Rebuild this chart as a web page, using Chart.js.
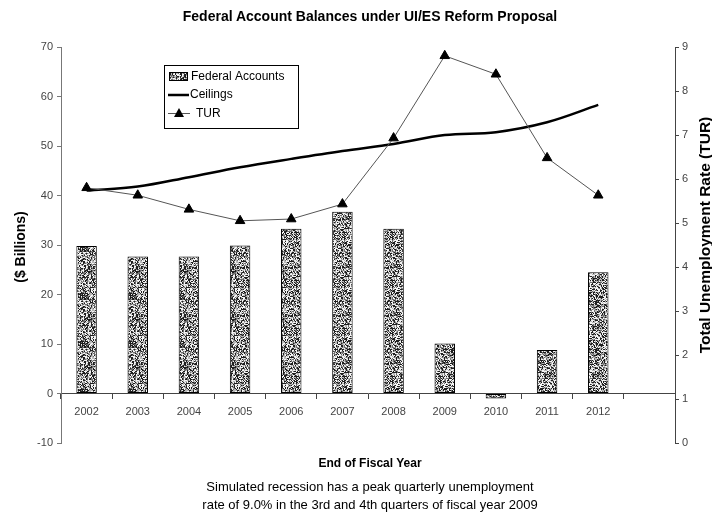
<!DOCTYPE html>
<html>
<head>
<meta charset="utf-8">
<script src="https://cdn.jsdelivr.net/npm/chart.js@4"></script>
<style>
  html, body { margin: 0; padding: 0; background: #fff; }
  #wrap { position: relative; width: 712px; height: 517px; overflow: hidden; font-family: "Liberation Sans", Arial, sans-serif; }
  #chart { position: absolute; left: 0; top: 0; }
  .txt { position: absolute; left: 0; width: 740px; text-align: center; color: #000; }
  #title { top: 8px; font-size: 14px; font-weight: bold; }
  #xtitle { top: 456px; font-size: 12px; font-weight: bold; }
  #note { top: 478px; font-size: 13px; line-height: 18px; }
  .vt { position: absolute; width: 400px; height: 20px; line-height: 20px; text-align: center;
        font-weight: bold; color: #000; transform: rotate(-90deg); white-space: nowrap; }
  #ytitle { left: -180.5px; top: 237px; font-size: 14px; }
  #y2title { left: 505px; top: 225px; font-size: 15.5px; }
</style>
</head>
<body>
<div id="wrap">
  <canvas id="chart" width="712" height="517"></canvas>
  <div class="txt" id="title">Federal Account Balances under UI/ES Reform Proposal</div>
  <div class="txt" id="xtitle">End of Fiscal Year</div>
  <div class="txt" id="note">Simulated recession has a peak quarterly unemployment<br>rate of 9.0% in the 3rd and 4th quarters of fiscal year 2009</div>
  <div class="vt" id="ytitle">($ Billions)</div>
  <div class="vt" id="y2title">Total Unemployment Rate (TUR)</div>
</div>
<script>
// ---------------- DATA ----------------
const years = ["2002", "2003", "2004", "2005", "2006", "2007", "2008", "2009", "2010", "2011", "2012", ""];
const federalAccounts = [29.8, 27.7, 27.7, 29.9, 33.3, 36.7, 33.3, 10.1, -1.0, 8.8, 24.5];
const ceilings = [41.0, 41.8, 43.7, 45.7, 47.4, 49.0, 50.4, 52.2, 52.8, 54.8, 58.3];
const tur = [5.8, 5.63, 5.31, 5.05, 5.09, 5.43, 6.93, 8.8, 8.38, 6.48, 5.63];
const leftTicks = [-10, 0, 10, 20, 30, 40, 50, 60, 70];
const rightTicks = [0, 1, 2, 3, 4, 5, 6, 7, 8, 9];

// ---------------- SPECKLED FILL ----------------
function speckle() {
    const c = document.createElement("canvas");
    c.width = 48; c.height = 48;
    const g = c.getContext("2d");
    const img = g.createImageData(48, 48);
    let s = 12345;
    for (let i = 0; i < 48 * 48; i++) {
        s = (s * 1103515245 + 12345) & 0x7fffffff;
        const r = (s >> 8) % 100;
        const v = r < 30 ? 30 : r < 50 ? 110 : r < 72 ? 185 : 245;
        img.data[i * 4] = v;
        img.data[i * 4 + 1] = v;
        img.data[i * 4 + 2] = v;
        img.data[i * 4 + 3] = 255;
    }
    g.putImageData(img, 0, 0);
    return g.createPattern(c, "repeat");
}
const ctx = document.getElementById("chart");
const fill = speckle();

// ---------------- LEGEND BOX ----------------
const boxLegend = {
    id: "boxLegend",
    afterDraw(chart) {
        const c = chart.ctx;
        c.save();
        c.fillStyle = "#fff";
        c.fillRect(164.5, 65.5, 134, 63);
        c.strokeStyle = "#000";
        c.lineWidth = 1;
        c.strokeRect(164.5, 65.5, 134, 63);

        c.fillStyle = fill;
        c.fillRect(169, 72, 18, 8);
        c.strokeRect(169.5, 72.5, 18, 8);

        c.beginPath();
        c.lineWidth = 2.5;
        c.moveTo(168, 95); c.lineTo(189, 95);
        c.stroke();

        c.beginPath();
        c.lineWidth = 1;
        c.strokeStyle = "#555";
        c.moveTo(168, 113.5); c.lineTo(190, 113.5);
        c.stroke();
        c.fillStyle = "#000";
        c.beginPath();
        c.moveTo(179, 108); c.lineTo(184, 117); c.lineTo(174, 117);
        c.closePath(); c.fill();

        c.fillStyle = "#000";
        c.font = "12px 'Liberation Sans', Arial, sans-serif";
        c.textBaseline = "middle";
        c.fillText("Federal Accounts", 191, 77);
        c.fillText("Ceilings", 190, 95);
        c.fillText("TUR", 196, 114);
        c.restore();
    }
};

// ---------------- CHART ----------------
new Chart(ctx, {
    data: {
        labels: years,
        datasets: [
            {
                type: "line",
                label: "TUR",
                data: tur,
                yAxisID: "y2",
                borderColor: "#555",
                borderWidth: 1,
                pointStyle: "triangle",
                pointRadius: 5.5,
                pointBackgroundColor: "#000",
                pointBorderColor: "#000",
                tension: 0,
                order: 1
            },
            {
                type: "line",
                label: "Ceilings",
                data: ceilings,
                yAxisID: "y",
                borderColor: "#000",
                borderWidth: 2.5,
                pointRadius: 0,
                tension: 0.35,
                order: 2
            },
            {
                type: "bar",
                label: "Federal Accounts",
                data: federalAccounts,
                yAxisID: "y",
                backgroundColor: fill,
                borderColor: "#000",
                borderWidth: 1,
                borderSkipped: false,
                barPercentage: 0.4,
                categoryPercentage: 1,
                order: 3
            }
        ]
    },
    options: {
        responsive: false,
        animation: false,
        layout: { padding: { top: 47, bottom: 74, left: 0, right: 0 } },
        plugins: {
            legend: { display: false },
            tooltip: { enabled: false }
        },
        scales: {
            x: {
                position: { y: 0 },
                offset: true,
                grid: { offset: true, drawOnChartArea: false, tickLength: 5, color: "#444" },
                border: { color: "#444" },
                ticks: { color: "#444", padding: 7, font: { size: 11, family: "'Liberation Sans', Arial" }, maxRotation: 0 }
            },
            y: {
                position: "left",
                min: -10,
                max: 70,
                afterBuildTicks: s => { s.ticks = leftTicks.map(v => ({ value: v })); },
                afterFit: s => { s.width = 61; },
                grid: { drawOnChartArea: false, tickLength: 4, color: "#777" },
                border: { color: "#777" },
                ticks: { color: "#444", padding: 4, font: { size: 11, family: "'Liberation Sans', Arial" } }
            },
            y2: {
                position: "right",
                min: 0,
                max: 9,
                afterBuildTicks: s => { s.ticks = rightTicks.map(v => ({ value: v })); },
                afterFit: s => { s.width = 37; },
                grid: { drawOnChartArea: false, tickLength: 4, color: "#444" },
                border: { color: "#444" },
                ticks: { color: "#444", padding: 3, font: { size: 11, family: "'Liberation Sans', Arial" } }
            }
        }
    },
    plugins: [boxLegend]
});
</script>
</body>
</html>
